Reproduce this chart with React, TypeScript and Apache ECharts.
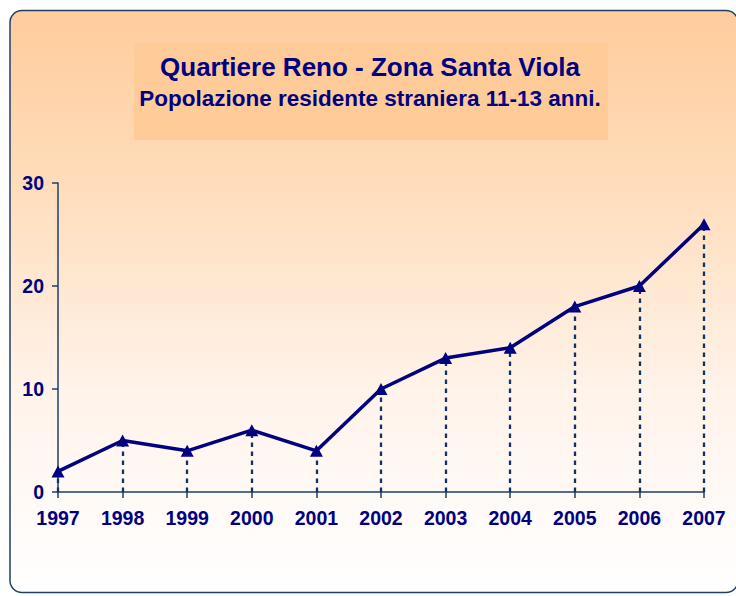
import React, { useEffect, useRef } from "react";
import * as echarts from "echarts";

const titleText = "Quartiere Reno - Zona Santa Viola";
const subtitleText = "Popolazione residente straniera 11-13 anni.";
const years = ["1997", "1998", "1999", "2000", "2001", "2002", "2003", "2004", "2005", "2006", "2007"];
const values = [2, 5, 4, 6, 4, 10, 13, 14, 18, 20, 26];
const yMin = 0;
const yMax = 30;
const yInterval = 10;

const NAVY = "#000080";
const AXIS = "#1F3F66";
const DROP = "#0F3364";
const FONT = "Arial, 'Liberation Sans', Helvetica, sans-serif";

export default function App() {
  const ref = useRef<HTMLDivElement>(null);
  useEffect(() => {
    if (!ref.current) return;
    const chart = echarts.init(ref.current, undefined, { renderer: "svg" });
    const dropLines = values.map((v, i) => [
      { coord: [i, 0] },
      { coord: [i, v] },
    ]);
    chart.setOption({
      animation: false,
      backgroundColor: "#FFFFFF",
      textStyle: { fontFamily: FONT },
      graphic: [
        {
          type: "rect",
          z: -100,
          shape: { x: 10, y: 10.5, width: 728, height: 582, r: 12 },
          style: {
            fill: new echarts.graphic.LinearGradient(0, 0, 0, 1, [
              { offset: 0, color: "#FFCC9C" },
              { offset: 0.3, color: "#FFDDBB" },
              { offset: 0.65, color: "#FFF3EA" },
              { offset: 1, color: "#FFFFFF" },
            ]),
            stroke: AXIS,
            lineWidth: 1.5,
          },
        },
        {
          type: "rect",
          z: -90,
          shape: { x: 134, y: 43, width: 474, height: 97 },
          style: { fill: "#FFCC99" },
        },
        {
          type: "text",
          z: 10,
          x: 370,
          y: 67,
          style: {
            text: titleText,
            fill: NAVY,
            font: `bold 26px ${FONT}`,
            textAlign: "center",
            textVerticalAlign: "middle",
          },
        },
        {
          type: "text",
          z: 10,
          x: 370,
          y: 98,
          style: {
            text: subtitleText,
            fill: NAVY,
            font: `bold 22.5px ${FONT}`,
            textAlign: "center",
            textVerticalAlign: "middle",
          },
        },
      ],
      grid: { left: 58, right: 32, top: 183, bottom: 104, containLabel: false },
      xAxis: {
        type: "category",
        data: years,
        boundaryGap: false,
        axisLine: { show: true, lineStyle: { color: AXIS, width: 1.5 } },
        axisTick: { show: true, alignWithLabel: true, length: 6, lineStyle: { color: AXIS, width: 1.5 } },
        axisLabel: { color: NAVY, fontWeight: "bold", fontSize: 19.5, margin: 16, fontFamily: FONT },
        splitLine: { show: false },
      },
      yAxis: {
        type: "value",
        min: yMin,
        max: yMax,
        interval: yInterval,
        axisLine: { show: true, lineStyle: { color: AXIS, width: 1.5 } },
        axisTick: { show: true, length: 6, lineStyle: { color: AXIS, width: 1.5 } },
        axisLabel: { color: NAVY, fontWeight: "bold", fontSize: 19.5, margin: 14, fontFamily: FONT },
        splitLine: { show: false },
      },
      series: [
        {
          type: "line",
          data: values,
          symbol: "triangle",
          symbolSize: [13, 12],
          showAllSymbol: true,
          lineStyle: { color: NAVY, width: 3.5 },
          itemStyle: { color: NAVY, borderWidth: 0 },
          z: 5,
          markLine: {
            silent: true,
            symbol: ["none", "none"],
            label: { show: false },
            lineStyle: { color: DROP, width: 2.3, type: [4.5, 4.5], opacity: 1 },
            emphasis: { disabled: true },
            data: dropLines,
            z: 3,
          },
        },
      ],
    });
    return () => chart.dispose();
  }, []);
  return (
    <div
      ref={ref}
      style={{ position: "fixed", left: 0, top: 0, width: 736, height: 596 }}
    />
  );
}
